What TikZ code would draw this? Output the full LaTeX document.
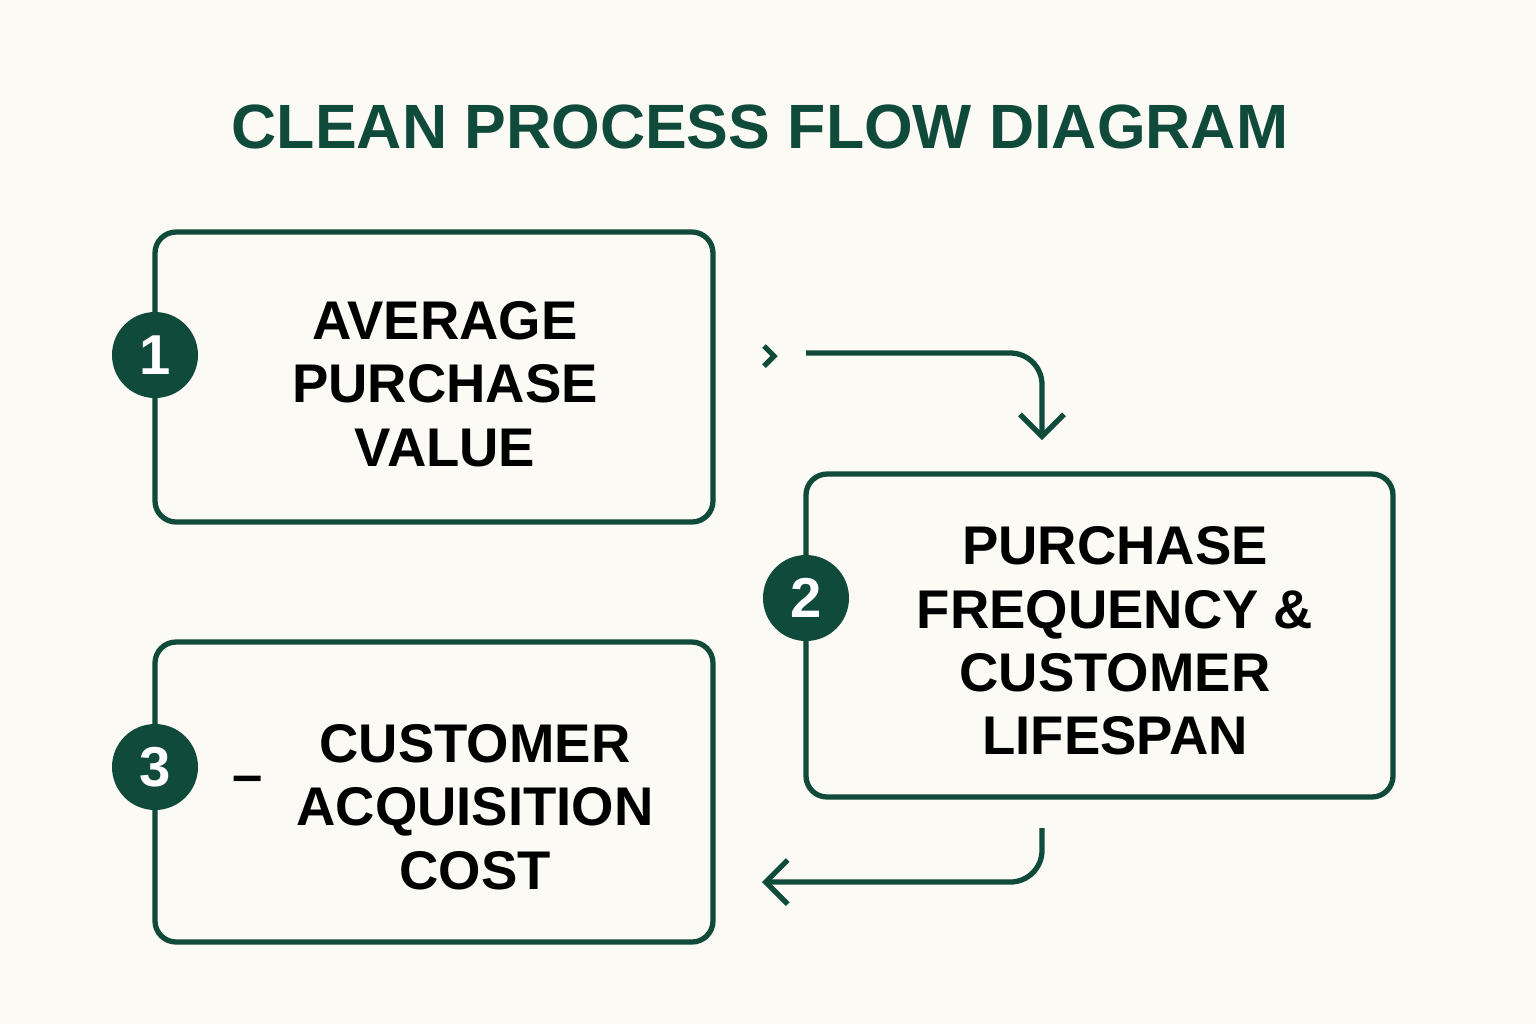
\documentclass[tikz,border=0pt]{standalone}
\usepackage{fontspec}
\setmainfont{Liberation Sans}
\usetikzlibrary{arrows.meta}
\definecolor{pine}{HTML}{0F4A3B}
\definecolor{paper}{HTML}{FBFAF5}
\tikzset{
  stepbox/.style={draw=pine,line width=1.5pt,rounded corners=6pt,fill=paper},
  badge/.style={circle,fill=pine,minimum size=8.6mm,inner sep=0pt,text=white,font=\fontsize{16}{16}\selectfont\bfseries},
  steptext/.style={align=center,font=\fontsize{15.5}{18}\selectfont\bfseries,text=black},
  flow/.style={draw=pine,line width=1.5pt,rounded corners=9pt}
}
\begin{document}
\begin{tikzpicture}[x=1mm,y=-1mm]
\fill[paper] (0,0) rectangle (153.6,102.4);
\useasboundingbox (0,0) rectangle (153.6,102.4);
\node[text=pine,font=\fontsize{17.8}{17.8}\selectfont\bfseries] (title) at (76,12.7) {CLEAN PROCESS FLOW DIAGRAM};

\draw[stepbox] (15.5,23.2) rectangle (71.3,52.2);
\draw[stepbox] (80.6,47.4) rectangle (139.3,79.7);
\draw[stepbox] (15.5,64.2) rectangle (71.3,94.2);

\node[badge] (one) at (15.5,35.5) {1};
\node[badge] (two) at (80.6,59.8) {2};
\node[badge] (three) at (15.5,76.7) {3};

\node[steptext] (avg) at (44.5,38.4) {AVERAGE\\PURCHASE\\VALUE};
\node[steptext] (freq) at (111.5,64.1) {PURCHASE\\FREQUENCY \&\\CUSTOMER\\LIFESPAN};
\node[steptext] (cac) at (47.5,80.7) {CUSTOMER\\ACQUISITION\\COST};
\node[font=\fontsize{15.5}{18}\selectfont\bfseries] (minus) at (24.8,78.5) {–};

\coordinate (a0) at (80.6,35.3);
\coordinate (a1) at (104.2,35.3);
\coordinate (a2) at (104.2,44.0);
\coordinate (b0) at (104.2,82.8);
\coordinate (b1) at (104.2,88.2);
\coordinate (b2) at (76.2,88.2);
\coordinate (c0) at (76.4,34.6);
\coordinate (c1) at (77.4,35.6);
\coordinate (c2) at (76.4,36.6);

\draw[flow,-{Straight Barb[length=2.2mm,width=4.4mm]}] (a0) -- (a1) -- (a2);
\draw[flow,-{Straight Barb[length=2.2mm,width=4.4mm]}] (b0) -- (b1) -- (b2);
\draw[draw=pine,line width=1.5pt] (c0) -- (c1) -- (c2);
\end{tikzpicture}
\end{document}
